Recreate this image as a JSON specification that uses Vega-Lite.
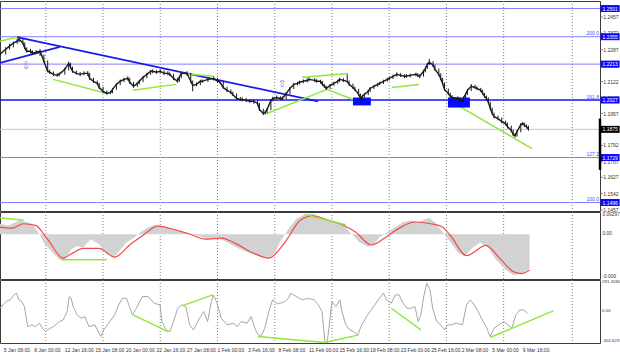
{
"$schema": "https://vega.github.io/schema/vega-lite/v6.json",
"padding": {"left": -5, "top": 0, "right": 0, "bottom": 0},
"background": "white",
"spacing": 1,
"bounds": "flush",
"config": {"view": {"stroke": "#3c3c3c", "strokeWidth": 1}, "font": "Liberation Sans", "axis": {"disable": true}},
"resolve": {"scale": {"x": "independent", "y": "independent"}},
"datasets": {
"grid": [{"i":24},{"i":54},{"i":84},{"i":114},{"i":144},{"i":174},{"i":204},{"i":234},{"i":264},{"i":300}],
"levels": [{"p":1.2501},{"p":1.2355},{"p":1.2213},{"p":1.1729},{"p":1.1496}],
"priceTicks": [{"p":1.2457,"t":"1.2457"},{"p":1.2372,"t":"1.2372"},{"p":1.2287,"t":"1.2287"},{"p":1.2202,"t":"1.2202"},{"p":1.2122,"t":"1.2122"},{"p":1.2037,"t":"1.2037"},{"p":1.1957,"t":"1.1957"},{"p":1.1872,"t":"1.1872"},{"p":1.1792,"t":"1.1792"},{"p":1.1707,"t":"1.1707"},{"p":1.1627,"t":"1.1627"},{"p":1.1542,"t":"1.1542"},{"p":1.1457,"t":"1.1457"}],
"macdTicks": [{"v":0.00297,"t":"0.00297"},{"v":0,"t":"0.00"},{"v":-0.006,"t":"-0.006"}],
"cciTicks": [{"v":291.209,"t":"291.2090"},{"v":0,"t":"0.00"},{"v":-302.623,"t":"-302.623"}],
"timeLabels": [{"i":2,"t":"5 Jan 08:00"},{"i":18,"t":"8 Jan 00:00"},{"i":34,"t":"12 Jan 16:00"},{"i":50,"t":"15 Jan 08:00"},{"i":66,"t":"20 Jan 00:00"},{"i":82,"t":"22 Jan 16:00"},{"i":98,"t":"27 Jan 08:00"},{"i":114,"t":"1 Feb 00:00"},{"i":130,"t":"3 Feb 16:00"},{"i":146,"t":"8 Feb 08:00"},{"i":162,"t":"11 Feb 00:00"},{"i":178,"t":"15 Feb 16:00"},{"i":194,"t":"18 Feb 08:00"},{"i":210,"t":"23 Feb 00:00"},{"i":226,"t":"25 Feb 16:00"},{"i":242,"t":"2 Mar 08:00"},{"i":258,"t":"5 Mar 00:00"},{"i":274,"t":"9 Mar 16:00"}],
"tags": [{"p":1.2501,"t":"1.2501"},{"p":1.2355,"t":"1.2355"},{"p":1.2213,"t":"1.2213"},{"p":1.2027,"t":"1.2027"},{"p":1.1729,"t":"1.1729"},{"p":1.1496,"t":"1.1496"}],
"fib": [{"p":1.2355,"t":"200.0"},{"p":1.2027,"t":"161.8"},{"p":1.1729,"t":"127.2"},{"p":1.1496,"t":"100.0"}],
"blueLines": [{"id":"A","i":8.9,"p":1.2353},{"id":"A","i":166.7,"p":1.2020},{"id":"B","i":0,"p":1.2219},{"id":"B","i":31.4,"p":1.2302}],
"greenMain": [{"id":1,"i":0,"p":1.2332},{"id":1,"i":8.9,"p":1.2353},{"id":2,"i":27.8,"p":1.2134},{"id":2,"i":56.1,"p":1.2061},{"id":3,"i":69.7,"p":1.2077},{"id":3,"i":92.2,"p":1.2108},{"id":4,"i":95.4,"p":1.2165},{"id":4,"i":111.6,"p":1.2150},{"id":5,"i":139.9,"p":1.1957},{"id":5,"i":171.4,"p":1.2082},{"id":6,"i":171.4,"p":1.2082},{"id":6,"i":185.0,"p":1.2030},{"id":7,"i":158.3,"p":1.2145},{"id":7,"i":182.4,"p":1.2165},{"id":8,"i":205.5,"p":1.2092},{"id":8,"i":219.6,"p":1.2108},{"id":9,"i":240.0,"p":1.1999},{"id":9,"i":278.8,"p":1.1775}],
"boxes": [{"i":185.0,"i2":194.4,"p":1.2040,"p2":1.1999},{"i":234.8,"i2":246.3,"p":1.2040,"p2":1.1988}],
"arrows": [{"i":13.6,"p":1.2202,"t":"⇩"},{"i":147.8,"p":1.2108,"t":"⇧"}],
"price": [
{"i":0,"c":1.2264,"h":1.2280,"l":1.2255},{"i":3,"c":1.2290,"h":1.2301,"l":1.2262},{"i":5,"c":1.2306,"h":1.2318,"l":1.2288},{"i":7,"c":1.2322,"h":1.2330,"l":1.2300},{"i":9,"c":1.2332,"h":1.2345,"l":1.2318},{"i":10,"c":1.2342,"h":1.2350,"l":1.2326},{"i":12,"c":1.2322,"h":1.2345,"l":1.2315},{"i":13,"c":1.2296,"h":1.2325,"l":1.2290},{"i":14,"c":1.2280,"h":1.2300,"l":1.2272},{"i":16,"c":1.2280,"h":1.2292,"l":1.2268},{"i":17,"c":1.2270,"h":1.2284,"l":1.2262},{"i":19,"c":1.2275,"h":1.2286,"l":1.2265},{"i":21,"c":1.2280,"h":1.2290,"l":1.2255},{"i":23,"c":1.2228,"h":1.2262,"l":1.2220},{"i":25,"c":1.2176,"h":1.2232,"l":1.2170},{"i":26,"c":1.2171,"h":1.2184,"l":1.2162},{"i":28,"c":1.2160,"h":1.2175,"l":1.2151},{"i":30,"c":1.2155,"h":1.2166,"l":1.2148},{"i":31,"c":1.2160,"h":1.2170,"l":1.2150},{"i":34,"c":1.2186,"h":1.2195,"l":1.2158},{"i":36,"c":1.2217,"h":1.2226,"l":1.2180},{"i":37,"c":1.2197,"h":1.2220,"l":1.2190},{"i":38,"c":1.2176,"h":1.2200,"l":1.2168},{"i":40,"c":1.2165,"h":1.2180,"l":1.2158},{"i":42,"c":1.2160,"h":1.2172,"l":1.2150},{"i":44,"c":1.2165,"h":1.2175,"l":1.2155},{"i":46,"c":1.2165,"h":1.2177,"l":1.2152},{"i":47,"c":1.2139,"h":1.2168,"l":1.2132},{"i":49,"c":1.2124,"h":1.2142,"l":1.2115},{"i":51,"c":1.2113,"h":1.2128,"l":1.2104},{"i":52,"c":1.2092,"h":1.2116,"l":1.2085},{"i":54,"c":1.2072,"h":1.2095,"l":1.2064},{"i":56,"c":1.2061,"h":1.2076,"l":1.2055},{"i":58,"c":1.2066,"h":1.2075,"l":1.2058},{"i":59,"c":1.2082,"h":1.2090,"l":1.2062},{"i":61,"c":1.2108,"h":1.2115,"l":1.2080},{"i":63,"c":1.2124,"h":1.2133,"l":1.2105},{"i":65,"c":1.2134,"h":1.2142,"l":1.2120},{"i":67,"c":1.2139,"h":1.2150,"l":1.2128},{"i":68,"c":1.2119,"h":1.2142,"l":1.2110},{"i":70,"c":1.2098,"h":1.2122,"l":1.2090},{"i":72,"c":1.2113,"h":1.2120,"l":1.2095},{"i":73,"c":1.2124,"h":1.2132,"l":1.2108},{"i":75,"c":1.2145,"h":1.2152,"l":1.2120},{"i":77,"c":1.2160,"h":1.2168,"l":1.2140},{"i":79,"c":1.2176,"h":1.2184,"l":1.2158},{"i":80,"c":1.2176,"h":1.2186,"l":1.2166},{"i":82,"c":1.2171,"h":1.2182,"l":1.2163},{"i":84,"c":1.2176,"h":1.2186,"l":1.2165},{"i":86,"c":1.2165,"h":1.2180,"l":1.2156},{"i":88,"c":1.2165,"h":1.2176,"l":1.2155},{"i":89,"c":1.2160,"h":1.2170,"l":1.2150},{"i":91,"c":1.2139,"h":1.2163,"l":1.2130},{"i":93,"c":1.2124,"h":1.2142,"l":1.2116},{"i":94,"c":1.2145,"h":1.2152,"l":1.2120},{"i":95,"c":1.2165,"h":1.2172,"l":1.2140},{"i":98,"c":1.2165,"h":1.2176,"l":1.2154},{"i":100,"c":1.2124,"h":1.2168,"l":1.2116},{"i":101,"c":1.2103,"h":1.2128,"l":1.2072},{"i":103,"c":1.2108,"h":1.2118,"l":1.2098},{"i":105,"c":1.2124,"h":1.2132,"l":1.2104},{"i":106,"c":1.2124,"h":1.2134,"l":1.2115},{"i":109,"c":1.2134,"h":1.2142,"l":1.2120},{"i":112,"c":1.2139,"h":1.2150,"l":1.2128},{"i":114,"c":1.2124,"h":1.2142,"l":1.2116},{"i":115,"c":1.2124,"h":1.2132,"l":1.2114},{"i":117,"c":1.2092,"h":1.2128,"l":1.2085},{"i":119,"c":1.2077,"h":1.2096,"l":1.2068},{"i":121,"c":1.2066,"h":1.2082,"l":1.2058},{"i":122,"c":1.2056,"h":1.2070,"l":1.2048},{"i":124,"c":1.2035,"h":1.2060,"l":1.2028},{"i":126,"c":1.2030,"h":1.2042,"l":1.2022},{"i":127,"c":1.2030,"h":1.2040,"l":1.2020},{"i":129,"c":1.2025,"h":1.2038,"l":1.2016},{"i":131,"c":1.2020,"h":1.2032,"l":1.2012},{"i":133,"c":1.2020,"h":1.2030,"l":1.2008},{"i":135,"c":1.2009,"h":1.2024,"l":1.2000},{"i":136,"c":1.1978,"h":1.2012,"l":1.1970},{"i":138,"c":1.1957,"h":1.1982,"l":1.1950},{"i":139,"c":1.1962,"h":1.1972,"l":1.1952},{"i":140,"c":1.1978,"h":1.1986,"l":1.1958},{"i":142,"c":1.2025,"h":1.2032,"l":1.1975},{"i":143,"c":1.2035,"h":1.2044,"l":1.2020},{"i":145,"c":1.2040,"h":1.2050,"l":1.2030},{"i":147,"c":1.2035,"h":1.2046,"l":1.2026},{"i":148,"c":1.2035,"h":1.2045,"l":1.2025},{"i":150,"c":1.2061,"h":1.2068,"l":1.2032},{"i":152,"c":1.2087,"h":1.2095,"l":1.2058},{"i":154,"c":1.2108,"h":1.2116,"l":1.2084},{"i":156,"c":1.2113,"h":1.2122,"l":1.2102},{"i":157,"c":1.2119,"h":1.2128,"l":1.2108},{"i":159,"c":1.2124,"h":1.2134,"l":1.2114},{"i":161,"c":1.2129,"h":1.2140,"l":1.2118},{"i":162,"c":1.2134,"h":1.2144,"l":1.2124},{"i":165,"c":1.2129,"h":1.2140,"l":1.2120},{"i":166,"c":1.2124,"h":1.2135,"l":1.2116},{"i":168,"c":1.2124,"h":1.2132,"l":1.2112},{"i":169,"c":1.2108,"h":1.2126,"l":1.2100},{"i":170,"c":1.2098,"h":1.2112,"l":1.2090},{"i":171,"c":1.2087,"h":1.2102,"l":1.2080},{"i":173,"c":1.2103,"h":1.2110,"l":1.2084},{"i":175,"c":1.2113,"h":1.2122,"l":1.2100},{"i":177,"c":1.2124,"h":1.2132,"l":1.2110},{"i":178,"c":1.2134,"h":1.2142,"l":1.2120},{"i":180,"c":1.2129,"h":1.2140,"l":1.2120},{"i":182,"c":1.2124,"h":1.2160,"l":1.2116},{"i":183,"c":1.2108,"h":1.2128,"l":1.2100},{"i":185,"c":1.2092,"h":1.2112,"l":1.2084},{"i":186,"c":1.2082,"h":1.2096,"l":1.2074},{"i":188,"c":1.2056,"h":1.2085,"l":1.2048},{"i":189,"c":1.2035,"h":1.2060,"l":1.2025},{"i":190,"c":1.2046,"h":1.2054,"l":1.2030},{"i":191,"c":1.2056,"h":1.2064,"l":1.2040},{"i":193,"c":1.2072,"h":1.2080,"l":1.2052},{"i":194,"c":1.2087,"h":1.2094,"l":1.2068},{"i":196,"c":1.2098,"h":1.2106,"l":1.2084},{"i":198,"c":1.2108,"h":1.2116,"l":1.2096},{"i":199,"c":1.2113,"h":1.2122,"l":1.2104},{"i":201,"c":1.2124,"h":1.2132,"l":1.2110},{"i":203,"c":1.2134,"h":1.2142,"l":1.2122},{"i":204,"c":1.2139,"h":1.2148,"l":1.2128},{"i":206,"c":1.2150,"h":1.2158,"l":1.2136},{"i":208,"c":1.2160,"h":1.2170,"l":1.2148},{"i":210,"c":1.2155,"h":1.2166,"l":1.2146},{"i":212,"c":1.2150,"h":1.2160,"l":1.2140},{"i":213,"c":1.2150,"h":1.2162,"l":1.2142},{"i":215,"c":1.2155,"h":1.2164,"l":1.2144},{"i":218,"c":1.2160,"h":1.2168,"l":1.2150},{"i":219,"c":1.2155,"h":1.2166,"l":1.2146},{"i":220,"c":1.2150,"h":1.2160,"l":1.2140},{"i":222,"c":1.2176,"h":1.2184,"l":1.2148},{"i":223,"c":1.2191,"h":1.2200,"l":1.2170},{"i":224,"c":1.2212,"h":1.2220,"l":1.2188},{"i":225,"c":1.2223,"h":1.2240,"l":1.2208},{"i":227,"c":1.2207,"h":1.2228,"l":1.2198},{"i":228,"c":1.2186,"h":1.2210,"l":1.2178},{"i":230,"c":1.2160,"h":1.2190,"l":1.2152},{"i":231,"c":1.2139,"h":1.2165,"l":1.2130},{"i":232,"c":1.2113,"h":1.2142,"l":1.2105},{"i":233,"c":1.2082,"h":1.2118,"l":1.2074},{"i":235,"c":1.2061,"h":1.2086,"l":1.2052},{"i":236,"c":1.2046,"h":1.2066,"l":1.2038},{"i":237,"c":1.2040,"h":1.2052,"l":1.2030},{"i":240,"c":1.2035,"h":1.2046,"l":1.2026},{"i":241,"c":1.2025,"h":1.2040,"l":1.2016},{"i":242,"c":1.2020,"h":1.2030,"l":1.2010},{"i":243,"c":1.2040,"h":1.2046,"l":1.2016},{"i":244,"c":1.2056,"h":1.2064,"l":1.2036},{"i":245,"c":1.2077,"h":1.2085,"l":1.2052},{"i":247,"c":1.2098,"h":1.2110,"l":1.2074},{"i":249,"c":1.2092,"h":1.2106,"l":1.2084},{"i":250,"c":1.2087,"h":1.2098,"l":1.2078},{"i":252,"c":1.2077,"h":1.2090,"l":1.2068},{"i":253,"c":1.2061,"h":1.2080,"l":1.2054},{"i":254,"c":1.2046,"h":1.2064,"l":1.2038},{"i":255,"c":1.2035,"h":1.2050,"l":1.2026},{"i":256,"c":1.2014,"h":1.2040,"l":1.2006},{"i":257,"c":1.1983,"h":1.2018,"l":1.1975},{"i":258,"c":1.1957,"h":1.1988,"l":1.1950},{"i":259,"c":1.1941,"h":1.1962,"l":1.1932},{"i":261,"c":1.1931,"h":1.1946,"l":1.1922},{"i":263,"c":1.1915,"h":1.1936,"l":1.1906},{"i":265,"c":1.1905,"h":1.1920,"l":1.1896},{"i":266,"c":1.1889,"h":1.1910,"l":1.1880},{"i":268,"c":1.1869,"h":1.1894,"l":1.1860},{"i":269,"c":1.1848,"h":1.1874,"l":1.1840},{"i":270,"c":1.1842,"h":1.1856,"l":1.1834},{"i":271,"c":1.1863,"h":1.1870,"l":1.1838},{"i":273,"c":1.1900,"h":1.1908,"l":1.1860},{"i":274,"c":1.1905,"h":1.1914,"l":1.1895},{"i":275,"c":1.1895,"h":1.1910,"l":1.1886},{"i":276,"c":1.1889,"h":1.1900,"l":1.1880},{"i":277,"c":1.1875,"h":1.1894,"l":1.1868}],
"macdHist": [{"i":0,"v":0.0014},{"i":4.1,"v":0.00117},{"i":10.4,"v":0.00186},{"i":16.6,"v":0.0014},{"i":20.7,"v":0},{"i":22.8,"v":-0.00113},{"i":26.9,"v":-0.00228},{"i":31.1,"v":-0.00343},{"i":34.2,"v":-0.00333},{"i":37.3,"v":-0.00205},{"i":40.4,"v":-0.00159},{"i":43.5,"v":-0.00182},{"i":47.6,"v":-0.00067},{"i":51.8,"v":-0.00136},{"i":55.9,"v":-0.00251},{"i":60.1,"v":-0.00297},{"i":63.2,"v":-0.00205},{"i":66.3,"v":-0.00113},{"i":70.4,"v":-0.00044},{"i":73.5,"v":0.00025},{"i":77.7,"v":0.00094},{"i":81.8,"v":0.00131},{"i":86.0,"v":0.00094},{"i":91.2,"v":0.00048},{"i":97.4,"v":0.00016},{"i":103.6,"v":-0.00021},{"i":108.8,"v":-0.00067},{"i":113.9,"v":-0.00044},{"i":119.1,"v":-0.00113},{"i":124.3,"v":-0.00182},{"i":130.5,"v":-0.00251},{"i":136.7,"v":-0.00297},{"i":140.9,"v":-0.0032},{"i":144.0,"v":-0.00251},{"i":147.1,"v":-0.0009},{"i":151.2,"v":0.00071},{"i":155.4,"v":0.00209},{"i":159.5,"v":0.00265},{"i":163.7,"v":0.00278},{"i":167.8,"v":0.00232},{"i":174.0,"v":0.00186},{"i":180.2,"v":0.00117},{"i":184.4,"v":0},{"i":188.5,"v":-0.00113},{"i":192.7,"v":-0.00168},{"i":195.8,"v":-0.00136},{"i":198.9,"v":-0.00044},{"i":203.0,"v":0.00025},{"i":207.2,"v":0.00094},{"i":211.3,"v":0.00163},{"i":215.5,"v":0.00186},{"i":219.6,"v":0.00163},{"i":224.8,"v":0.00218},{"i":227.9,"v":0.00163},{"i":232.0,"v":0.00025},{"i":236.2,"v":-0.00113},{"i":240.3,"v":-0.00251},{"i":243.4,"v":-0.00297},{"i":247.6,"v":-0.00182},{"i":251.7,"v":-0.00113},{"i":255.9,"v":-0.00182},{"i":260.0,"v":-0.00343},{"i":265.2,"v":-0.00481},{"i":269.3,"v":-0.0055},{"i":273.5,"v":-0.00527},{"i":277.6,"v":-0.00458}],
"macdSig": [{"i":0,"v":0.00094},{"i":6.2,"v":0.00081},{"i":12.4,"v":0.0014},{"i":18.6,"v":0.00117},{"i":24.9,"v":-0.00067},{"i":33.1,"v":-0.0032},{"i":38.3,"v":-0.0025},{"i":43.5,"v":-0.00191},{"i":51.8,"v":-0.00191},{"i":60.1,"v":-0.00306},{"i":68.4,"v":-0.00136},{"i":74.6,"v":-0.00021},{"i":82.9,"v":0.00108},{"i":91.2,"v":0.00062},{"i":99.4,"v":0.00002},{"i":107.7,"v":-0.00067},{"i":116.0,"v":-0.00053},{"i":124.3,"v":-0.00136},{"i":132.6,"v":-0.00251},{"i":140.9,"v":-0.0032},{"i":149.2,"v":-0.00113},{"i":157.4,"v":0.00186},{"i":163.7,"v":0.00246},{"i":172.0,"v":0.00186},{"i":180.2,"v":0.00117},{"i":186.5,"v":0.00025},{"i":194.7,"v":-0.00145},{"i":202.0,"v":-0.00044},{"i":207.2,"v":0.00048},{"i":217.5,"v":0.00163},{"i":225.8,"v":0.0014},{"i":232.0,"v":0.00094},{"i":236.2,"v":-0.00021},{"i":244.5,"v":-0.00288},{"i":254.8,"v":-0.0015},{"i":261.0,"v":-0.00297},{"i":269.3,"v":-0.00504},{"i":273.5,"v":-0.00527},{"i":277.6,"v":-0.00481}],
"macdGreen": [{"id":1,"i":0,"v":0.00219},{"id":1,"i":12.4,"v":0.00186},{"id":2,"i":32.1,"v":-0.00343},{"id":2,"i":55.9,"v":-0.00343},{"id":3,"i":159.5,"v":0.00265},{"id":3,"i":181.3,"v":0.00127}],
"cci": [{"i":0,"v":25},{"i":3.1,"v":88},{"i":5.2,"v":104},{"i":7.3,"v":151},{"i":8.7,"v":167},{"i":9.9,"v":104},{"i":11.4,"v":88},{"i":12.8,"v":41},{"i":14.5,"v":-148},{"i":16.6,"v":-132},{"i":18.6,"v":-148},{"i":20.7,"v":-116},{"i":22.2,"v":-163},{"i":23.8,"v":-195},{"i":24.9,"v":-179},{"i":28.0,"v":-148},{"i":31.1,"v":-101},{"i":33.1,"v":-85},{"i":35.2,"v":-6},{"i":36.3,"v":135},{"i":37.3,"v":119},{"i":38.3,"v":41},{"i":40.4,"v":-38},{"i":42.5,"v":-69},{"i":44.5,"v":-53},{"i":46.6,"v":-148},{"i":49.7,"v":-132},{"i":52.8,"v":-242},{"i":54.3,"v":-179},{"i":57.0,"v":-116},{"i":60.1,"v":-38},{"i":62.2,"v":57},{"i":64.2,"v":119},{"i":66.3,"v":119},{"i":69.4,"v":-38},{"i":71.5,"v":25},{"i":74.6,"v":135},{"i":77.7,"v":135},{"i":80.8,"v":72},{"i":83.9,"v":57},{"i":84.9,"v":-101},{"i":87.0,"v":-179},{"i":89.1,"v":-195},{"i":91.2,"v":-85},{"i":93.2,"v":25},{"i":95.3,"v":57},{"i":97.4,"v":41},{"i":99.4,"v":-132},{"i":101.5,"v":-179},{"i":103.6,"v":-101},{"i":106.7,"v":-6},{"i":108.8,"v":-101},{"i":110.8,"v":88},{"i":111.9,"v":151},{"i":113.5,"v":88},{"i":116.0,"v":-69},{"i":119.1,"v":-132},{"i":122.2,"v":-116},{"i":124.3,"v":-148},{"i":126.4,"v":-101},{"i":129.5,"v":-116},{"i":131.6,"v":-53},{"i":133.6,"v":-163},{"i":134.7,"v":-210},{"i":136.7,"v":-242},{"i":138.8,"v":-163},{"i":140.9,"v":-6},{"i":142.9,"v":104},{"i":145.0,"v":72},{"i":147.1,"v":72},{"i":149.2,"v":88},{"i":151.2,"v":119},{"i":152.3,"v":167},{"i":155.4,"v":135},{"i":158.5,"v":104},{"i":161.6,"v":119},{"i":164.7,"v":104},{"i":166.8,"v":57},{"i":168.8,"v":-6},{"i":170.3,"v":-289},{"i":171.5,"v":-298},{"i":173.0,"v":-69},{"i":174.0,"v":88},{"i":176.1,"v":41},{"i":178.2,"v":104},{"i":179.2,"v":-6},{"i":181.3,"v":-132},{"i":183.3,"v":-179},{"i":185.4,"v":-195},{"i":187.5,"v":-226},{"i":189.6,"v":-132},{"i":192.7,"v":-38},{"i":195.8,"v":41},{"i":198.9,"v":119},{"i":201.0,"v":167},{"i":202.6,"v":104},{"i":205.1,"v":72},{"i":207.2,"v":151},{"i":209.2,"v":151},{"i":211.3,"v":72},{"i":213.4,"v":25},{"i":215.5,"v":25},{"i":217.5,"v":41},{"i":219.2,"v":-101},{"i":220.6,"v":-38},{"i":222.1,"v":135},{"i":223.7,"v":261},{"i":225.4,"v":198},{"i":226.8,"v":25},{"i":228.9,"v":-101},{"i":231.0,"v":-132},{"i":233.1,"v":-179},{"i":234.5,"v":-132},{"i":236.2,"v":-132},{"i":239.3,"v":-116},{"i":242.4,"v":-132},{"i":244.5,"v":57},{"i":246.5,"v":104},{"i":248.6,"v":57},{"i":250.7,"v":-6},{"i":252.3,"v":-69},{"i":253.8,"v":-116},{"i":255.2,"v":-163},{"i":256.9,"v":-242},{"i":259.0,"v":-163},{"i":261.5,"v":-132},{"i":264.1,"v":-101},{"i":266.2,"v":-132},{"i":268.3,"v":-163},{"i":270.4,"v":-38},{"i":272.4,"v":9},{"i":274.5,"v":9},{"i":276.6,"v":-22}],
"cciGreen": [{"id":1,"i":69.8,"v":-38},{"id":1,"i":88.0,"v":-195},{"id":2,"i":95.7,"v":50},{"id":2,"i":111.5,"v":151},{"id":3,"i":135.1,"v":-242},{"id":3,"i":170.3,"v":-298},{"id":4,"i":170.3,"v":-298},{"id":4,"i":188.1,"v":-226},{"id":5,"i":205.1,"v":25},{"id":5,"i":220.6,"v":-179},{"id":6,"i":256.9,"v":-251},{"id":6,"i":290.0,"v":0}]
},
"vconcat": [
{
"width": 600, "height": 210,
"layer": [
{"data": {"name": "grid"}, "mark": {"type": "rule", "color": "#808080", "strokeDash": [1, 2], "strokeWidth": 1},
 "encoding": {"x": {"field": "i", "type": "quantitative", "scale": {"domain": [0, 314.5], "nice": false, "zero": false}, "axis": null}}},
{"data": {"name": "levels"}, "mark": {"type": "rule", "color": "#7f7fff", "strokeWidth": 1},
 "encoding": {"y": {"field": "p", "type": "quantitative", "scale": {"domain": [1.1452, 1.254], "nice": false, "zero": false}, "axis": null}}},
{"data": {"values": [{"p": 1.2027}]}, "mark": {"type": "rule", "color": "#1414f0", "strokeWidth": 1.5},
 "encoding": {"y": {"field": "p", "type": "quantitative", "scale": {"domain": [1.1452, 1.254], "nice": false, "zero": false}, "axis": null}}},
{"data": {"values": [{"p": 1.1875}]}, "mark": {"type": "rule", "color": "#c8c8c8", "strokeWidth": 1},
 "encoding": {"y": {"field": "p", "type": "quantitative", "scale": {"domain": [1.1452, 1.254], "nice": false, "zero": false}, "axis": null}}},
{"data": {"name": "blueLines"}, "mark": {"type": "line", "color": "#1a1ae6", "strokeWidth": 1.8},
 "encoding": {"x": {"field": "i", "type": "quantitative", "scale": {"domain": [0, 314.5], "nice": false, "zero": false}, "axis": null},
  "y": {"field": "p", "type": "quantitative", "scale": {"domain": [1.1452, 1.254], "nice": false, "zero": false}, "axis": null}, "detail": {"field": "id"}}},
{"data": {"name": "greenMain"}, "mark": {"type": "line", "color": "#8fe83a", "strokeWidth": 1.5},
 "encoding": {"x": {"field": "i", "type": "quantitative", "scale": {"domain": [0, 314.5], "nice": false, "zero": false}, "axis": null},
  "y": {"field": "p", "type": "quantitative", "scale": {"domain": [1.1452, 1.254], "nice": false, "zero": false}, "axis": null}, "detail": {"field": "id"}}},
{"data": {"name": "boxes"}, "mark": {"type": "rect", "color": "#0a0aff"},
 "encoding": {"x": {"field": "i", "type": "quantitative", "scale": {"domain": [0, 314.5], "nice": false, "zero": false}, "axis": null}, "x2": {"field": "i2"},
  "y": {"field": "p", "type": "quantitative", "scale": {"domain": [1.1452, 1.254], "nice": false, "zero": false}, "axis": null}, "y2": {"field": "p2"}}},
{"data": {"name": "price"}, "mark": {"type": "rule", "color": "#1a1a1a", "strokeWidth": 1},
 "encoding": {"x": {"field": "i", "type": "quantitative", "scale": {"domain": [0, 314.5], "nice": false, "zero": false}, "axis": null},
  "y": {"field": "l", "type": "quantitative", "scale": {"domain": [1.1452, 1.254], "nice": false, "zero": false}, "axis": null}, "y2": {"field": "h"}}},
{"data": {"name": "price"}, "mark": {"type": "line", "color": "#1a1a1a", "strokeWidth": 1.4},
 "encoding": {"x": {"field": "i", "type": "quantitative", "scale": {"domain": [0, 314.5], "nice": false, "zero": false}, "axis": null},
  "y": {"field": "c", "type": "quantitative", "scale": {"domain": [1.1452, 1.254], "nice": false, "zero": false}, "axis": null}}},
{"data": {"name": "arrows"}, "mark": {"type": "text", "color": "#5b7cff", "fontSize": 10, "font": "DejaVu Sans", "align": "center", "baseline": "middle"},
 "encoding": {"x": {"field": "i", "type": "quantitative", "scale": {"domain": [0, 314.5], "nice": false, "zero": false}, "axis": null},
  "y": {"field": "p", "type": "quantitative", "scale": {"domain": [1.1452, 1.254], "nice": false, "zero": false}, "axis": null}, "text": {"field": "t"}}},
{"data": {"name": "fib"}, "mark": {"type": "text", "color": "#4a4aff", "fontSize": 5, "align": "right", "baseline": "bottom", "dy": -0.5},
 "encoding": {"x": {"datum": 314, "type": "quantitative", "axis": null}, "y": {"field": "p", "type": "quantitative", "scale": {"domain": [1.1452, 1.254], "nice": false, "zero": false}, "axis": null}, "text": {"field": "t"}}},
{"data": {"name": "priceTicks"}, "mark": {"type": "tick", "color": "#555555", "orient": "horizontal", "size": 3, "thickness": 1},
 "encoding": {"x": {"datum": 315.3, "type": "quantitative", "axis": null}, "y": {"field": "p", "type": "quantitative", "scale": {"domain": [1.1452, 1.254], "nice": false, "zero": false}, "axis": null}}},
{"data": {"name": "priceTicks"}, "mark": {"type": "text", "color": "#333333", "fontSize": 5, "align": "left", "baseline": "middle"},
 "encoding": {"x": {"datum": 316.2, "type": "quantitative", "axis": null}, "y": {"field": "p", "type": "quantitative", "scale": {"domain": [1.1452, 1.254], "nice": false, "zero": false}, "axis": null}, "text": {"field": "t"}}},
{"data": {"name": "tags"}, "mark": {"type": "tick", "color": "#0a0aff", "orient": "horizontal", "size": 19, "thickness": 7, "opacity": 1},
 "encoding": {"x": {"datum": 319.8, "type": "quantitative", "axis": null}, "y": {"field": "p", "type": "quantitative", "scale": {"domain": [1.1452, 1.254], "nice": false, "zero": false}, "axis": null}}},
{"data": {"name": "tags"}, "mark": {"type": "text", "color": "white", "fontSize": 5, "align": "center", "baseline": "middle"},
 "encoding": {"x": {"datum": 319.8, "type": "quantitative", "axis": null}, "y": {"field": "p", "type": "quantitative", "scale": {"domain": [1.1452, 1.254], "nice": false, "zero": false}, "axis": null}, "text": {"field": "t"}}},
{"data": {"values": [{"p": 1.1931, "p2": 1.1665}]}, "mark": {"type": "rule", "color": "#000000", "strokeWidth": 2.5},
 "encoding": {"x": {"datum": 314.5, "type": "quantitative", "axis": null}, "y": {"field": "p", "type": "quantitative", "scale": {"domain": [1.1452, 1.254], "nice": false, "zero": false}, "axis": null}, "y2": {"field": "p2"}}},
{"data": {"values": [{"p": 1.1875, "t": "1.1875"}]}, "mark": {"type": "tick", "color": "#000000", "orient": "horizontal", "size": 19, "thickness": 7, "opacity": 1},
 "encoding": {"x": {"datum": 319.8, "type": "quantitative", "axis": null}, "y": {"field": "p", "type": "quantitative", "scale": {"domain": [1.1452, 1.254], "nice": false, "zero": false}, "axis": null}}},
{"data": {"values": [{"p": 1.1875, "t": "1.1875"}]}, "mark": {"type": "text", "color": "white", "fontSize": 5, "align": "center", "baseline": "middle"},
 "encoding": {"x": {"datum": 319.8, "type": "quantitative", "axis": null}, "y": {"field": "p", "type": "quantitative", "scale": {"domain": [1.1452, 1.254], "nice": false, "zero": false}, "axis": null}, "text": {"field": "t"}}}
]
},
{
"width": 600, "height": 67,
"layer": [
{"data": {"name": "grid"}, "mark": {"type": "rule", "color": "#808080", "strokeDash": [1, 2], "strokeWidth": 1},
 "encoding": {"x": {"field": "i", "type": "quantitative", "scale": {"domain": [0, 314.5], "nice": false, "zero": false}, "axis": null}}},
{"data": {"name": "macdHist"}, "mark": {"type": "area", "color": "#d2d2d2"},
 "encoding": {"x": {"field": "i", "type": "quantitative", "scale": {"domain": [0, 314.5], "nice": false, "zero": false}, "axis": null},
  "y": {"field": "v", "type": "quantitative", "scale": {"domain": [-0.006, 0.00297], "nice": false, "zero": false}, "axis": null},
  "y2": {"datum": 0}}},
{"data": {"name": "macdSig"}, "mark": {"type": "line", "color": "#f24a4a", "strokeWidth": 1.2, "interpolate": "monotone"},
 "encoding": {"x": {"field": "i", "type": "quantitative", "scale": {"domain": [0, 314.5], "nice": false, "zero": false}, "axis": null},
  "y": {"field": "v", "type": "quantitative", "scale": {"domain": [-0.006, 0.00297], "nice": false, "zero": false}, "axis": null}}},
{"data": {"name": "macdGreen"}, "mark": {"type": "line", "color": "#8fe83a", "strokeWidth": 1.5},
 "encoding": {"x": {"field": "i", "type": "quantitative", "scale": {"domain": [0, 314.5], "nice": false, "zero": false}, "axis": null},
  "y": {"field": "v", "type": "quantitative", "scale": {"domain": [-0.006, 0.00297], "nice": false, "zero": false}, "axis": null}, "detail": {"field": "id"}}},
{"data": {"name": "macdTicks"}, "mark": {"type": "text", "color": "#333333", "fontSize": 4.8, "align": "left", "baseline": {"expr": "datum.v > 0 ? 'top' : (datum.v < 0 ? 'bottom' : 'middle')"}},
 "encoding": {"x": {"datum": 315.8, "type": "quantitative", "axis": null}, "y": {"field": "v", "type": "quantitative", "scale": {"domain": [-0.006, 0.00297], "nice": false, "zero": false}, "axis": null}, "text": {"field": "t"}}}
]
},
{
"width": 600, "height": 63,
"layer": [
{"data": {"name": "grid"}, "mark": {"type": "rule", "color": "#808080", "strokeDash": [1, 2], "strokeWidth": 1},
 "encoding": {"x": {"field": "i", "type": "quantitative", "scale": {"domain": [0, 314.5], "nice": false, "zero": false}, "axis": null}}},
{"data": {"name": "cci"}, "mark": {"type": "line", "color": "#a6a6a6", "strokeWidth": 1},
 "encoding": {"x": {"field": "i", "type": "quantitative", "scale": {"domain": [0, 314.5], "nice": false, "zero": false}, "axis": null},
  "y": {"field": "v", "type": "quantitative", "scale": {"domain": [-302.623, 291.209], "nice": false, "zero": false}, "axis": null}}},
{"data": {"name": "cciGreen"}, "mark": {"type": "line", "color": "#8fe83a", "strokeWidth": 1.5},
 "encoding": {"x": {"field": "i", "type": "quantitative", "scale": {"domain": [0, 314.5], "nice": false, "zero": false}, "axis": null},
  "y": {"field": "v", "type": "quantitative", "scale": {"domain": [-302.623, 291.209], "nice": false, "zero": false}, "axis": null}, "detail": {"field": "id"}}},
{"data": {"name": "cciTicks"}, "mark": {"type": "text", "color": "#333333", "fontSize": 4.4, "align": "left", "baseline": {"expr": "datum.v > 0 ? 'top' : (datum.v < 0 ? 'bottom' : 'middle')"}},
 "encoding": {"x": {"datum": 315.6, "type": "quantitative", "axis": null}, "y": {"field": "v", "type": "quantitative", "scale": {"domain": [-302.623, 291.209], "nice": false, "zero": false}, "axis": null}, "text": {"field": "t"}}},
{"data": {"name": "timeLabels"}, "mark": {"type": "text", "color": "#333333", "fontSize": 5, "align": "left", "baseline": "top", "dy": 5},
 "encoding": {"x": {"field": "i", "type": "quantitative", "scale": {"domain": [0, 314.5], "nice": false, "zero": false}, "axis": null},
  "y": {"datum": -302.623, "type": "quantitative", "scale": {"domain": [-302.623, 291.209], "nice": false, "zero": false}, "axis": null}, "text": {"field": "t"}}}
]
}
]
}
